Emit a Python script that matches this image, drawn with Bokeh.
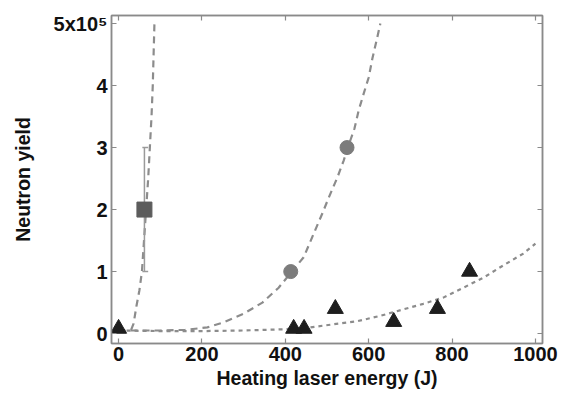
from bokeh.plotting import figure
from bokeh.models import Range1d, LinearAxis, FixedTicker, ColumnDataSource
from bokeh.embed import file_html
from bokeh.resources import INLINE

# ---- data ----
tri_x = [0, 420, 445, 520, 660, 765, 842]
tri_y = [0.08, 0.08, 0.08, 0.40, 0.19, 0.40, 1.00]

circ_x = [413, 548]
circ_y = [1.0, 3.0]

sq_x = [62]
sq_y = [2.0]
sq_lo = [1.0]
sq_hi = [3.0]

steep_x = [30, 36, 43, 50, 56, 61, 66, 71, 75, 79, 82, 84, 86]
steep_y = [0.06, 0.16, 0.45, 0.70, 1.00, 1.50, 2.00, 2.50, 3.00, 3.50, 4.00, 4.50, 5.00]

mid_x = [0, 100, 160, 213, 252, 300, 345, 384, 412, 444, 468, 489, 504, 525,
         540, 549, 566, 576, 588, 600, 609, 619, 628]
mid_y = [0.05, 0.05, 0.06, 0.10, 0.18, 0.32, 0.50, 0.74, 0.97, 1.23, 1.61, 1.94,
         2.19, 2.52, 2.79, 2.98, 3.31, 3.60, 3.87, 4.13, 4.44, 4.73, 5.00]

low_x = [0, 100, 200, 300, 400, 460, 516, 573, 630, 683, 731, 779, 827, 875,
         923, 971, 1000]
low_y = [0.05, 0.04, 0.04, 0.05, 0.07, 0.10, 0.15, 0.20, 0.29, 0.39, 0.48, 0.58,
         0.74, 0.90, 1.10, 1.29, 1.45]

x_ticks = [0, 200, 400, 600, 800, 1000]
y_ticks = [0, 1, 2, 3, 4, 5]
y_tick_labels = {5: "5x10\u2075"}

FONT = "Liberation Sans"
FRAME = "#8a8a8a"

p = figure(width=565, height=394, output_backend="svg", toolbar_location=None,
           x_range=Range1d(-17, 1017), y_range=Range1d(-0.16, 5.13),
           min_border_left=111, min_border_right=23, min_border_top=15,
           min_border_bottom=51)
p.grid.visible = False
p.outline_line_color = FRAME
p.outline_line_width = 1.5
p.background_fill_color = "white"
p.border_fill_color = "white"

# curves
p.line(steep_x, steep_y, line_color="#8c8c8c", line_width=2.2, line_dash="7 5")
p.line(mid_x, mid_y, line_color="#8c8c8c", line_width=2.2, line_dash="7 5")
p.line(low_x, low_y, line_color="#8c8c8c", line_width=2.2, line_dash="4 4")

# error bar for the square point
src = ColumnDataSource(dict(x=sq_x, lo=sq_lo, hi=sq_hi))
p.segment(x0="x", y0="lo", x1="x", y1="hi", source=src, line_color="#9a9a9a", line_width=1.5)
p.segment(x0=[v - 5 for v in sq_x], y0=sq_hi, x1=[v + 9 for v in sq_x], y1=sq_hi,
          line_color="#9a9a9a", line_width=1.5)
p.segment(x0=[v - 5 for v in sq_x], y0=sq_lo, x1=[v + 9 for v in sq_x], y1=sq_lo,
          line_color="#9a9a9a", line_width=1.5)

# markers
p.scatter(sq_x, sq_y, marker="square", size=15, fill_color="#5c5c5c", line_color="#5c5c5c")
p.scatter(circ_x, circ_y, marker="circle", size=14, fill_color="#7c7c7c", line_color="#7c7c7c")
p.scatter(tri_x, tri_y, marker="triangle", size=16, fill_color="#1e1e1e", line_color="#1e1e1e")

# axes styling
def style(ax, labels=True):
    ax.axis_line_color = FRAME
    ax.axis_line_width = 1.5
    ax.major_tick_line_color = FRAME
    ax.major_tick_line_width = 1.2
    ax.major_tick_in = 5
    ax.major_tick_out = 0
    ax.minor_tick_line_color = None
    ax.major_label_text_font = FONT
    ax.major_label_text_font_style = "bold"
    ax.major_label_text_font_size = "20px"
    ax.major_label_text_color = "#111111"
    ax.axis_label_text_font = FONT
    ax.axis_label_text_font_style = "bold"
    ax.axis_label_text_font_size = "19.5px"
    ax.axis_label_text_color = "#111111"
    if not labels:
        ax.major_label_text_alpha = 0
        ax.major_label_text_font_size = "0px"
        ax.major_label_standoff = 0

p.xaxis.ticker = FixedTicker(ticks=x_ticks)
p.yaxis.ticker = FixedTicker(ticks=y_ticks)
p.yaxis.major_label_overrides = y_tick_labels
p.xaxis.axis_label = "Heating laser energy (J)"
p.yaxis.axis_label = "Neutron yield"
style(p.xaxis[0])
style(p.yaxis[0])
p.xaxis.major_label_standoff = 3
p.yaxis.major_label_standoff = 4
p.xaxis.axis_label_standoff = 3
p.yaxis.axis_label_standoff = 17

top = LinearAxis(ticker=FixedTicker(ticks=x_ticks))
right = LinearAxis(ticker=FixedTicker(ticks=y_ticks))
style(top, labels=False)
style(right, labels=False)
p.add_layout(top, "above")
p.add_layout(right, "right")

open("out.html", "w").write(file_html(p, INLINE))
